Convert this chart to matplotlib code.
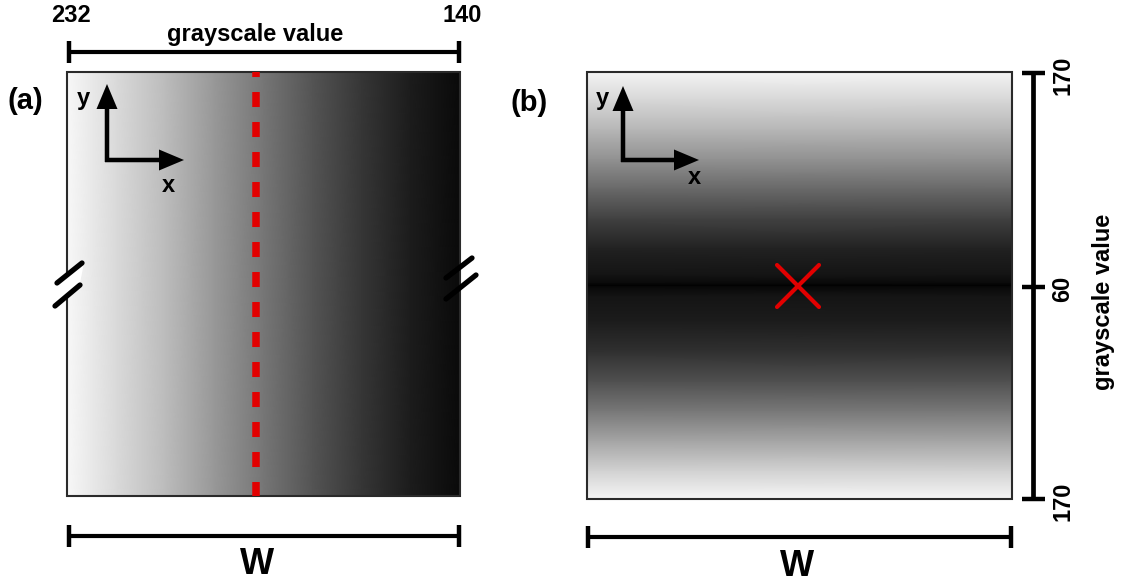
import numpy as np
import matplotlib.pyplot as plt
from matplotlib.patches import Rectangle, Polygon

plt.rcParams['font.family'] = ['Liberation Sans', 'DejaVu Sans']
plt.rcParams['font.weight'] = 'bold'

# grayscale range labels
top_labels = ['232', '140']
side_labels = ['170', '60', '170']
axis_label = 'grayscale value'

# displayed intensity across panel (a), left to right (fraction of width, 0-255)
grad_a_frac = [0.0, 0.125, 0.25, 0.375, 0.5, 0.625, 0.75, 0.875, 1.0]
grad_a_vals = [248, 218, 188, 152, 118, 84, 54, 28, 10]

# displayed intensity down panel (b), top to bottom (fraction of height, 0-255)
grad_b_frac = [0.0, 0.065, 0.135, 0.205, 0.275, 0.345, 0.415, 0.475, 0.497,
               0.50, 0.503, 0.525, 0.585, 0.655, 0.725, 0.795, 0.865, 0.935, 1.0]
grad_b_vals = [244, 215, 182, 145, 104, 64, 33, 20, 8,
               2, 8, 20, 28, 48, 80, 120, 165, 210, 246]

BLACK = '#000000'
RED = '#e20000'

fig = plt.figure(figsize=(11.22, 5.85), dpi=100)
ax = fig.add_axes([0, 0, 1, 1])
ax.set_xlim(0, 1122)
ax.set_ylim(585, 0)
ax.axis('off')

def scale_bar_h(x0, x1, y, tick=11):
    ax.plot([x0, x1], [y, y], color=BLACK, lw=3, solid_capstyle='butt')
    for xx in (x0, x1):
        ax.plot([xx, xx], [y - tick, y + tick], color=BLACK, lw=3.2,
                solid_capstyle='butt')

def axes_glyph(cx, cy, x_tip, y_tip):
    ax.arrow(cx, cy + 2, 0, y_tip - cy - 2, width=4.5, head_width=21,
             head_length=25, length_includes_head=True, color=BLACK, lw=0)
    ax.arrow(cx - 2, cy, x_tip - cx + 2, 0, width=4.5, head_width=21,
             head_length=25, length_includes_head=True, color=BLACK, lw=0)

# ---- panel (a): horizontal gradient ----
ax_l, ax_r, a_top, a_bot = 67, 460, 72, 496
xs = ax_l + np.array(grad_a_frac) * (ax_r - ax_l)
X = np.vstack([xs, xs])
Y = np.vstack([np.full_like(xs, a_top), np.full_like(xs, a_bot)])
C = np.vstack([grad_a_vals, grad_a_vals]).astype(float)
ax.pcolormesh(X, Y, C, shading='gouraud', cmap='gray', vmin=0, vmax=255)
ax.add_patch(Rectangle((ax_l, a_top), ax_r - ax_l, a_bot - a_top,
                       fill=False, edgecolor='#2a2a2a', lw=1.5))

# centre line
ax.plot([256.5, 256.5], [a_top, a_bot], color=RED, lw=5.4,
        linestyle=(1.33, (2, 2)), dash_capstyle='butt')

axes_glyph(107, 160, 184, 84)
ax.text(83, 98, 'y', fontsize=17, ha='center', va='center')
ax.text(168, 185, 'x', fontsize=17, ha='center', va='center')
ax.text(25, 101, '(a)', fontsize=21, ha='center', va='center')

# top scale bar with grayscale range
scale_bar_h(69, 459, 52)
ax.text(71, 15, top_labels[0], fontsize=17, ha='center', va='center')
ax.text(462, 15, top_labels[1], fontsize=17, ha='center', va='center')
ax.text(255, 34, axis_label, fontsize=17, ha='center', va='center')

# width bar
scale_bar_h(69, 459, 536)
ax.text(257, 565, 'W', fontsize=26, ha='center', va='center')

# break marks on the sides
ax.add_patch(Polygon([[60, 281], [84, 263], [80, 283], [57, 302]],
                     closed=True, facecolor='white', edgecolor='none', zorder=4))
for (x0, y0, x1, y1) in [(57, 283, 82, 263), (55, 306, 80, 285),
                         (446, 278, 472, 258), (446, 299, 476, 275)]:
    ax.plot([x0, x1], [y0, y1], color=BLACK, lw=3.8, solid_capstyle='round',
            zorder=5)

# ---- panel (b): vertical gradient ----
bx_l, bx_r, b_top, b_bot = 587, 1012, 72, 499
ys = b_top + np.array(grad_b_frac) * (b_bot - b_top)
Yb = np.vstack([ys, ys]).T
Xb = np.vstack([np.full_like(ys, bx_l), np.full_like(ys, bx_r)]).T
Cb = np.vstack([grad_b_vals, grad_b_vals]).T.astype(float)
ax.pcolormesh(Xb, Yb, Cb, shading='gouraud', cmap='gray', vmin=0, vmax=255)
ax.add_patch(Rectangle((bx_l, b_top), bx_r - bx_l, b_bot - b_top,
                       fill=False, edgecolor='#2a2a2a', lw=1.5))

# centre point marker
cx, cy, r = 798, 286, 21
ax.plot([cx - r, cx + r], [cy - r, cy + r], color=RED, lw=3, solid_capstyle='round')
ax.plot([cx - r, cx + r], [cy + r, cy - r], color=RED, lw=3, solid_capstyle='round')

axes_glyph(623, 160, 699, 86)
ax.text(602, 98, 'y', fontsize=17, ha='center', va='center')
ax.text(694, 177, 'x', fontsize=17, ha='center', va='center')
ax.text(529, 103, '(b)', fontsize=21, ha='center', va='center')

# vertical scale bar with grayscale values
bar_x = 1033
tick_ys = [b_top + 1, 287, b_bot]
ax.plot([bar_x, bar_x], [b_top + 1, b_bot], color=BLACK, lw=3.4,
        solid_capstyle='butt')
for ty, lab in zip(tick_ys, side_labels):
    ax.plot([bar_x - 11, bar_x + 12], [ty, ty], color=BLACK, lw=3.2,
            solid_capstyle='butt')
    ax.text(1063, ty + 2, lab, fontsize=17, rotation=90, ha='center',
            va='center')
ax.text(1104, 302, axis_label, fontsize=17, rotation=90, ha='center',
        va='center')

scale_bar_h(588, 1011, 537)
ax.text(797, 566, 'W', fontsize=26, ha='center', va='center')

fig.savefig('out.png', dpi=100)
